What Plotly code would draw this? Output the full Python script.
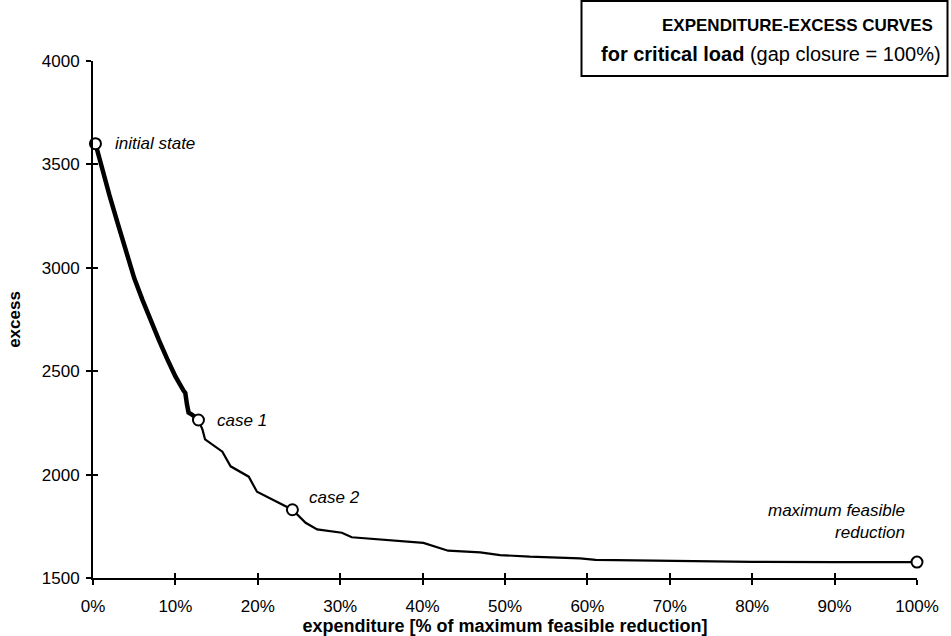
import plotly.graph_objects as go

# ---- data ----
expenditure_pct = [0.3, 1, 2, 3, 4, 5, 6, 7, 8, 9, 10, 11, 11.2, 11.4, 11.6, 12.0, 12.4, 12.8,
                   13.3, 13.6, 15.0, 15.7, 16.7, 18.9, 19.9, 22.7, 24.2,
                   25.8, 27.2, 30.2, 31.4, 40.1, 43.1, 47.0, 49.4, 53.0, 56.3, 59.1,
                   61, 65, 70, 73, 80, 90, 100]
excess = [3600, 3490, 3350, 3215, 3080, 2950, 2845, 2745, 2650, 2560, 2475, 2405, 2395, 2340, 2300, 2290, 2280, 2264,
          2216, 2170, 2130, 2111, 2040, 1990, 1917, 1861, 1830,
          1767, 1735, 1719, 1697, 1670, 1632, 1624, 1611, 1603, 1600, 1595,
          1588, 1586, 1582, 1580, 1578, 1577, 1577]

thick_until_pct = 12.8  # curve drawn heavy up to case 1

point_labels = ["initial state", "case 1", "case 2", "maximum feasible<br>reduction"]
point_x = [0.3, 12.8, 24.2, 100]
point_y = [3600, 2264, 1830, 1577]

x_ticks = [0, 10, 20, 30, 40, 50, 60, 70, 80, 90, 100]
x_tick_labels = ["0%", "10%", "20%", "30%", "40%", "50%", "60%", "70%", "80%", "90%", "100%"]
y_ticks = [1500, 2000, 2500, 3000, 3500, 4000]

FONT = "Liberation Sans, Arial, sans-serif"

thick_x = [x for x in expenditure_pct if x <= thick_until_pct]
thick_y = [y for x, y in zip(expenditure_pct, excess) if x <= thick_until_pct]
thin_x = [x for x in expenditure_pct if x >= thick_until_pct]
thin_y = [y for x, y in zip(expenditure_pct, excess) if x >= thick_until_pct]

fig = go.Figure()
fig.add_trace(go.Scatter(x=thin_x, y=thin_y, mode="lines",
                         line=dict(color="black", width=2.2), hoverinfo="skip", showlegend=False))
fig.add_trace(go.Scatter(x=thick_x, y=thick_y, mode="lines",
                         line=dict(color="black", width=4.5), hoverinfo="skip", showlegend=False))
fig.add_trace(go.Scatter(x=point_x, y=point_y, mode="markers",
                         marker=dict(size=11, color="white", line=dict(color="black", width=2)),
                         cliponaxis=False, showlegend=False))
# overlay axes for the inner half of crossing tick marks
fig.add_trace(go.Scatter(x=[], y=[], xaxis="x2", yaxis="y2", showlegend=False, hoverinfo="skip"))

fig.update_layout(
    width=951, height=636,
    margin=dict(l=92.5, r=33.5, t=61, b=58),
    paper_bgcolor="white", plot_bgcolor="white",
    font=dict(family=FONT, size=17, color="black"),
    showlegend=False,
    xaxis=dict(range=[0, 100], tickvals=x_ticks, ticktext=x_tick_labels, showgrid=False, zeroline=False,
               showline=True, linecolor="black", linewidth=2, automargin=False,
               ticks="outside", ticklen=5, tickwidth=1.5, tickcolor="black",
               tickfont=dict(size=17), ticklabelstandoff=7,
               title=dict(text="<b>expenditure [% of maximum feasible reduction]</b>",
                          font=dict(size=18), standoff=4)),
    yaxis=dict(range=[1500, 4000], tickvals=y_ticks, showgrid=False, zeroline=False,
               showline=True, linecolor="black", linewidth=2, automargin=False,
               ticks="outside", ticklen=5, tickwidth=1.5, tickcolor="black",
               tickfont=dict(size=17), ticklabelstandoff=3,
               title=dict(text="<b>excess</b>", font=dict(size=17), standoff=17)),
    xaxis2=dict(overlaying="x", matches="x", range=[0, 100], tickvals=x_ticks, showticklabels=False,
                showgrid=False, zeroline=False, showline=False, automargin=False,
                ticks="inside", ticklen=5, tickwidth=1.5, tickcolor="black", side="bottom"),
    yaxis2=dict(overlaying="y", matches="y", range=[1500, 4000], tickvals=y_ticks, showticklabels=False,
                showgrid=False, zeroline=False, showline=False, automargin=False,
                ticks="inside", ticklen=5, tickwidth=1.5, tickcolor="black", side="left"),
)

# point labels
label_shift = [(18, 0, "left", "middle"), (17, 0, "left", "middle"),
               (15, 12, "left", "middle"), (-10, 41, "right", "middle")]
for txt, px, py, (xs, ys, xa, ya) in zip(point_labels, point_x, point_y, label_shift):
    fig.add_annotation(x=px, y=py, xref="x", yref="y", text=f"<i>{txt}</i>", showarrow=False,
                       xanchor=xa, yanchor=ya, xshift=xs, yshift=ys, align="right",
                       font=dict(size=17, family=FONT))

# title box
fig.add_shape(type="rect", xref="paper", yref="paper", xsizemode="pixel", ysizemode="pixel",
              xanchor=1, yanchor=1, x0=-335.5, x1=30.5, y0=-15, y1=60,
              line=dict(color="black", width=2), fillcolor="white", layer="above")
fig.add_annotation(xref="paper", yref="paper", x=1, y=1, xanchor="right", yanchor="middle",
                   xshift=17.5, yshift=36, showarrow=False,
                   text="<b>EXPENDITURE-EXCESS CURVES</b>", font=dict(size=17, family=FONT))
fig.add_annotation(xref="paper", yref="paper", x=1, y=1, xanchor="right", yanchor="middle",
                   xshift=25.5, yshift=7, showarrow=False,
                   text="<b>for critical load</b> (gap closure = 100%)", font=dict(size=20, family=FONT))

fig.write_html("out.html",
               config={"displayModeBar": False},
               post_script="document.body.style.margin='0';document.body.style.padding='0';"
                           "document.documentElement.style.overflow='hidden';")
